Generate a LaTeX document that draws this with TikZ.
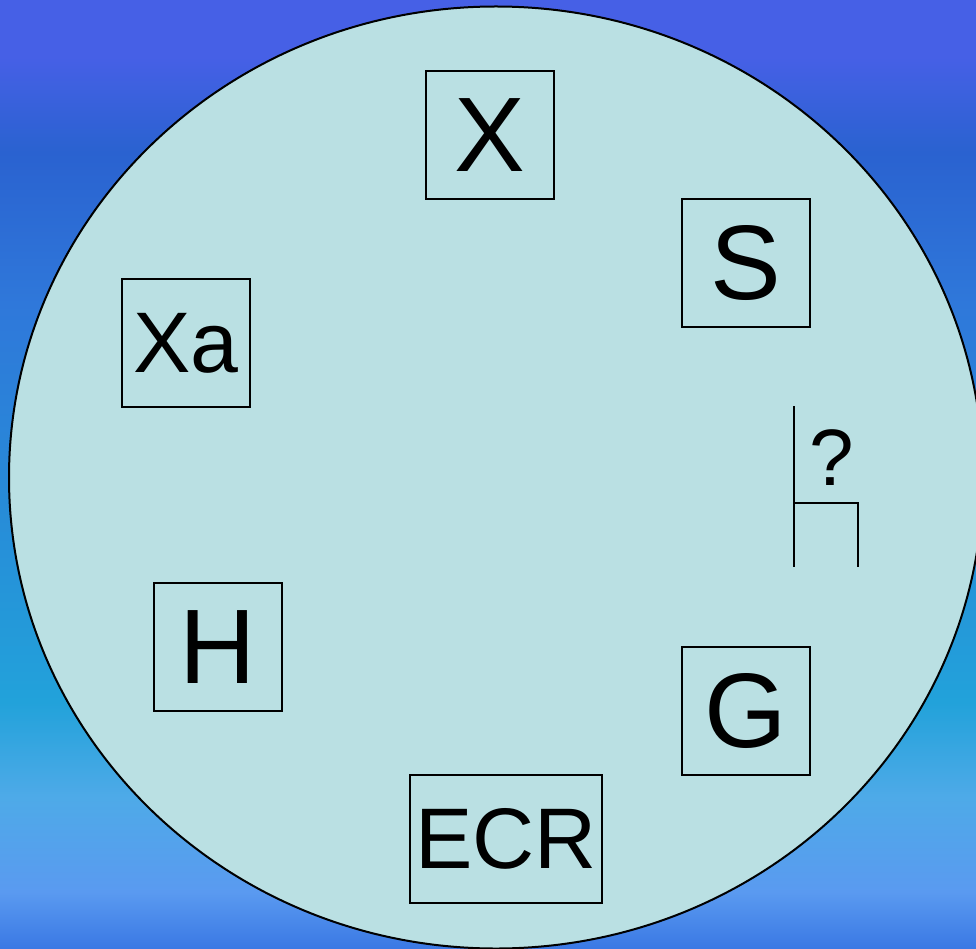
\documentclass[tikz,border=0pt]{standalone}
\usepackage{fontspec}
\setmainfont{Liberation Sans}
\definecolor{bgA}{HTML}{4660E6}
\definecolor{bgB}{HTML}{2A62D0}
\definecolor{bgC}{HTML}{2F78DA}
\definecolor{bgD}{HTML}{2888D8}
\definecolor{bgE}{HTML}{22A2DA}
\definecolor{bgF}{HTML}{4EAAE8}
\definecolor{bgG}{HTML}{5A9AF0}
\definecolor{bgH}{HTML}{3A78E4}
\definecolor{disc}{HTML}{BAE0E3}
\pgfdeclareverticalshading{slide}{100bp}{color(0bp)=(bgH); color(25bp)=(bgH);
  color(28bp)=(bgG); color(33bp)=(bgF); color(38bp)=(bgE); color(50bp)=(bgD);
  color(59bp)=(bgC); color(67bp)=(bgB); color(72bp)=(bgA); color(100bp)=(bgA)}
\begin{document}
\begin{tikzpicture}[x=1pt, y=-1pt,
  letterbox/.style={draw, line width=1.7pt, minimum width=128pt, minimum height=128pt,
    inner sep=0pt, font=\fontsize{106}{106}\selectfont},
  smallbox/.style={letterbox, font=\fontsize{86}{86}\selectfont}]
\useasboundingbox (0,0) rectangle (976,949);
\shade[shading=slide] (0,0) rectangle (976,949);
\draw[line width=2pt, fill=disc] (496,477.5) ellipse [x radius=487, y radius=471];
\node[letterbox] (x) at (490,135) {X};
\node[letterbox] (s) at (746,263) {S};
\node[smallbox] (xa) at (186,343) {Xa};
\node[letterbox] (h) at (218,647) {H};
\node[letterbox] (g) at (746,711) {G};
\node[smallbox, minimum width=192pt] (ecr) at (506,839) {ECR};
\node[font=\fontsize{80}{80}\selectfont, inner sep=0pt] (q) at (832,458) {?};
\draw[line width=2pt] (794,406) -- (794,567);
\draw[line width=2pt] (794,503) -- (858,503) -- (858,567);
\end{tikzpicture}
\end{document}
